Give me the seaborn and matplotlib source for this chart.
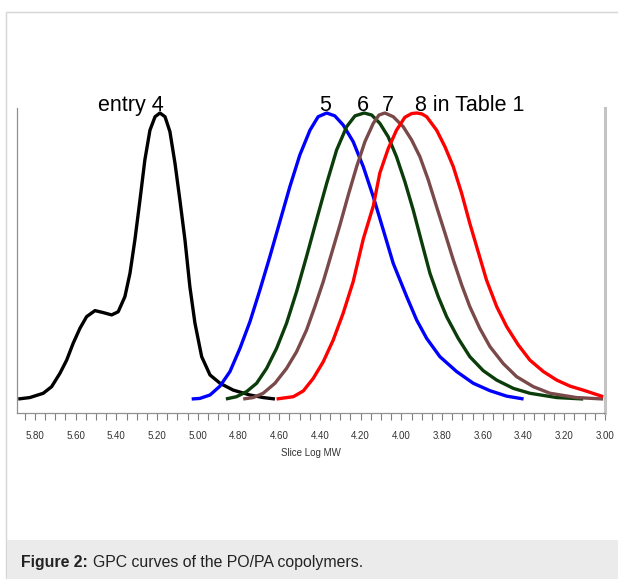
import numpy as np
import pandas as pd
import seaborn as sns
import matplotlib.pyplot as plt
from matplotlib.patches import Rectangle
from matplotlib.ticker import MultipleLocator, FormatStrFormatter

# GPC traces: slice log MW vs normalised detector response
entry4_x = [5.882, 5.825, 5.759, 5.718, 5.677, 5.644, 5.612, 5.579, 5.546, 5.505, 5.464,
            5.423, 5.391, 5.358, 5.333, 5.309, 5.284, 5.260, 5.235, 5.210, 5.186, 5.161,
            5.137, 5.112, 5.088, 5.063, 5.039, 5.014, 4.981, 4.940, 4.891, 4.826, 4.744,
            4.679, 4.621]
entry4_y = [0.000, 0.005, 0.020, 0.043, 0.090, 0.136, 0.195, 0.247, 0.288, 0.309, 0.302,
            0.294, 0.305, 0.358, 0.440, 0.556, 0.696, 0.836, 0.940, 0.987, 1.000, 0.987,
            0.935, 0.824, 0.696, 0.556, 0.393, 0.265, 0.148, 0.084, 0.055, 0.031, 0.014,
            0.005, 0.000]

entry5_x = [5.030, 4.990, 4.940, 4.891, 4.842, 4.793, 4.744, 4.695, 4.646, 4.597, 4.548,
            4.499, 4.449, 4.409, 4.367, 4.327, 4.286, 4.237, 4.187, 4.138, 4.089, 4.040,
            3.974, 3.925, 3.876, 3.811, 3.729, 3.647, 3.565, 3.483, 3.400]
entry5_y = [0.000, 0.002, 0.014, 0.045, 0.096, 0.177, 0.270, 0.381, 0.498, 0.620, 0.742,
            0.853, 0.940, 0.987, 1.000, 0.990, 0.958, 0.900, 0.812, 0.707, 0.591, 0.474,
            0.358, 0.276, 0.212, 0.148, 0.096, 0.055, 0.029, 0.010, 0.000]

entry6_x = [4.862, 4.810, 4.760, 4.711, 4.662, 4.613, 4.564, 4.515, 4.466, 4.417, 4.367,
            4.318, 4.269, 4.228, 4.183, 4.146, 4.106, 4.065, 4.024, 3.983, 3.942, 3.901,
            3.860, 3.819, 3.778, 3.721, 3.664, 3.598, 3.532, 3.450, 3.369, 3.237, 3.107]
entry6_y = [0.000, 0.008, 0.026, 0.055, 0.107, 0.177, 0.265, 0.375, 0.498, 0.626, 0.754,
            0.871, 0.952, 0.990, 1.000, 0.993, 0.964, 0.917, 0.847, 0.760, 0.661, 0.550,
            0.440, 0.358, 0.288, 0.212, 0.148, 0.099, 0.066, 0.037, 0.020, 0.005, 0.000]

entry7_x = [4.777, 4.728, 4.679, 4.621, 4.564, 4.515, 4.466, 4.425, 4.384, 4.343, 4.302,
            4.261, 4.220, 4.179, 4.138, 4.110, 4.081, 4.040, 3.991, 3.950, 3.909, 3.868,
            3.827, 3.786, 3.745, 3.704, 3.664, 3.615, 3.565, 3.500, 3.434, 3.352, 3.270,
            3.140, 3.009]
entry7_y = [0.000, 0.005, 0.020, 0.055, 0.107, 0.165, 0.241, 0.323, 0.410, 0.509, 0.608,
            0.713, 0.812, 0.900, 0.964, 0.993, 1.000, 0.987, 0.952, 0.906, 0.847, 0.766,
            0.672, 0.580, 0.486, 0.399, 0.323, 0.247, 0.183, 0.124, 0.078, 0.043, 0.020,
            0.005, 0.000]

entry8_x = [4.613, 4.531, 4.482, 4.433, 4.384, 4.335, 4.286, 4.237, 4.187, 4.138, 4.106,
            4.065, 4.024, 3.983, 3.950, 3.925, 3.900, 3.876, 3.827, 3.786, 3.745, 3.704,
            3.664, 3.623, 3.582, 3.532, 3.483, 3.426, 3.369, 3.303, 3.237, 3.172, 3.107,
            3.009]
entry8_y = [0.000, 0.008, 0.028, 0.072, 0.130, 0.206, 0.300, 0.410, 0.560, 0.675, 0.790,
            0.875, 0.940, 0.985, 0.998, 1.000, 0.997, 0.987, 0.940, 0.882, 0.812, 0.719,
            0.614, 0.515, 0.416, 0.323, 0.253, 0.189, 0.136, 0.096, 0.066, 0.045, 0.031,
            0.008]

entries = ["4", "5", "6", "7", "8"]
colors = ["#000000", "#0000ff", "#0b3d0b", "#7a4a4a", "#ff0000"]

frames = []
for name, xs, ys in zip(entries,
                        [entry4_x, entry5_x, entry6_x, entry7_x, entry8_x],
                        [entry4_y, entry5_y, entry6_y, entry7_y, entry8_y]):
    frames.append(pd.DataFrame({"logmw": xs, "signal": ys, "entry": name}))
df = pd.concat(frames, ignore_index=True)

sns.set_theme(style="white")
plt.rcParams["font.family"] = ["Liberation Sans", "DejaVu Sans"]

fig = plt.figure(figsize=(6.18, 5.79), dpi=100)
W, H = 618, 579

# outer frame and caption strip (behind the axes)
fig.patches.append(Rectangle((6 / W, 0), 1, (579 - 12) / H, transform=fig.transFigure,
                             facecolor="white", edgecolor="#d6d6d6", lw=1.0, zorder=-3))
fig.patches.append(Rectangle((6.5 / W, 0), 1, (579 - 540) / H, transform=fig.transFigure,
                             facecolor="#ebebeb", edgecolor="none", zorder=-2))
t1 = fig.text(21 / W, 1 - 563 / H, "Figure 2:", fontsize=11.4, fontweight="bold",
              va="center", ha="left", color="#222222")
fig.add_artist(plt.Annotation("GPC curves of the PO/PA copolymers.", xy=(1, 0.5),
                              xycoords=t1, xytext=(3.5, 0), textcoords="offset points",
                              fontsize=11.4, va="center", ha="left", color="#222222"))

ax = fig.add_axes([17 / W, 1 - 413 / H, (605 - 17) / W, (413 - 108) / H])
ax.patch.set_alpha(0)

sns.lineplot(data=df, x="logmw", y="signal", hue="entry", palette=colors,
             sort=False, estimator=None, linewidth=2.4, legend=False, ax=ax,
             solid_joinstyle="round", solid_capstyle="butt")

ax.set_xlim(5.888, 3.0)
ax.set_ylim(-0.049, 1.0175)
ax.set_yticks([])
ax.xaxis.set_major_locator(MultipleLocator(0.2))
ax.xaxis.set_minor_locator(MultipleLocator(0.05))
ax.xaxis.set_major_formatter(FormatStrFormatter("%.2f"))
ax.tick_params(axis="x", which="both", bottom=True, direction="out", length=5,
               width=0.8, color="#808080", labelsize=7, labelcolor="#333333", pad=8)
ax.set_xlabel("Slice Log MW", fontsize=7, color="#333333", labelpad=5)
ax.set_ylabel("")

ax.spines["top"].set_visible(False)
ax.spines["left"].set_color("#909090")
ax.spines["left"].set_linewidth(0.9)
ax.spines["bottom"].set_color("#909090")
ax.spines["bottom"].set_linewidth(0.9)
ax.spines["right"].set_color("#c4c4c4")
ax.spines["right"].set_linewidth(2.2)

lab = dict(fontsize=15.5, va="baseline", color="black")
ax.text(5.49, 1.008, "entry 4", ha="left", **lab)
ax.text(4.373, 1.008, "5", ha="center", **lab)
ax.text(4.189, 1.008, "6", ha="center", **lab)
ax.text(4.066, 1.008, "7", ha="center", **lab)
ax.text(3.934, 1.008, "8 in Table 1", ha="left", **lab)

fig.savefig("out.png", dpi=100)
